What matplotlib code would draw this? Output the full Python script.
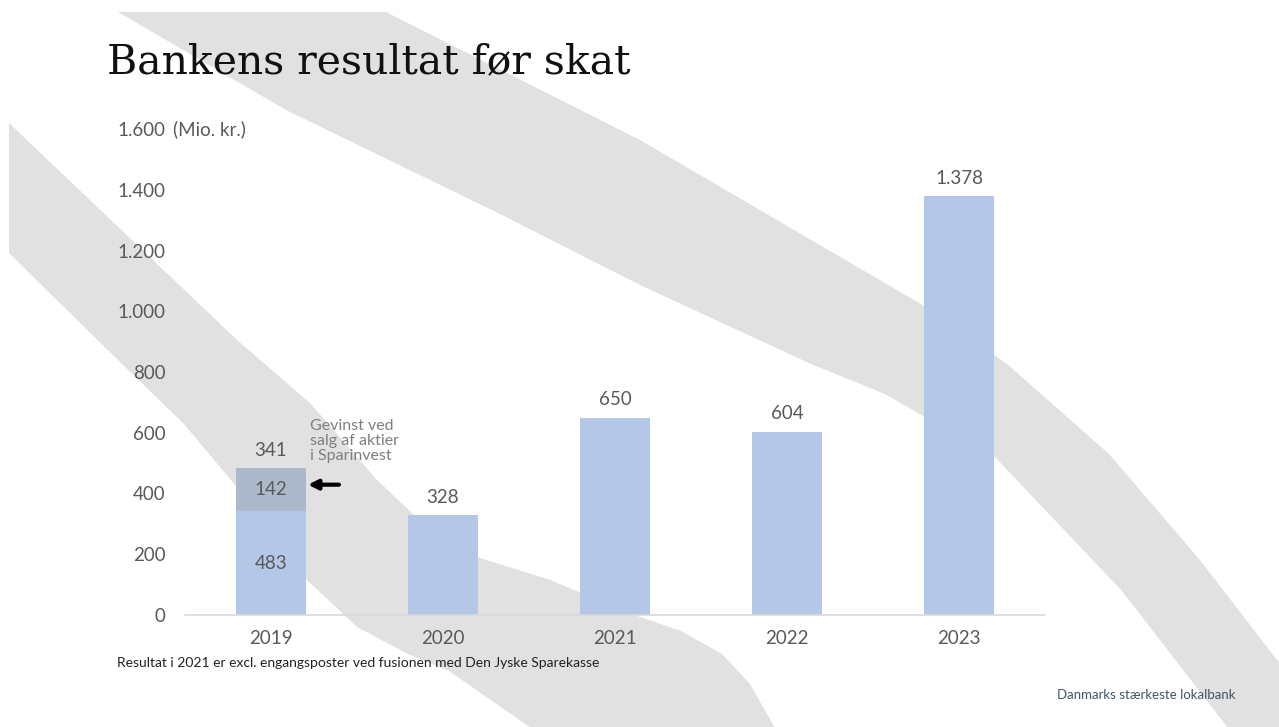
import matplotlib
matplotlib.use("Agg")
import matplotlib.pyplot as plt
from matplotlib.patches import Polygon

# data
years = ["2019", "2020", "2021", "2022", "2023"]
values = [341, 328, 650, 604, 1378]
labels = ["341", "328", "650", "604", "1.378"]
gain_2019 = 142
gain_label = "142"
base_label_2019 = "483"
yticks = [0, 200, 400, 600, 800, 1000, 1200, 1400, 1600]
ytick_labels = ["0", "200", "400", "600", "800", "1.000", "1.200", "1.400", "1.600"]

W, H = 1279, 727
bar_col = "#b4c7e7"
gain_col = "#adb9ca"
txt_col = "#595959"
band_col = "#e1e1e1"
sans = "Lato"
fs = 13.5

fig = plt.figure(figsize=(W / 100, H / 100), dpi=100)
fig.patch.set_facecolor("white")

# background axes in pixel units for the grey swooshes
bg = fig.add_axes([0, 0, 1, 1], zorder=-1)
bg.set_xlim(0, W)
bg.set_ylim(H, 0)
bg.axis("off")

upper_band = [(118, 12), (386, 12), (640, 140), (926, 307), (1007, 364), (1109, 454),
              (1200, 560), (1280, 664), (1280, 728), (1228, 728), (1122, 591), (995, 457),
              (885, 394), (811, 364), (640, 285), (498, 213), (286, 110)]
lower_band = [(9, 123), (237, 340), (310, 403), (377, 480), (430, 530), (477, 557),
              (550, 580), (640, 617), (681, 631), (722, 654), (750, 684), (775, 728),
              (531, 728), (449, 671), (408, 654), (357, 627), (307, 580), (245, 497),
              (184, 424), (122, 364), (9, 253)]
for band in (upper_band, lower_band):
    bg.add_patch(Polygon(band, closed=True, facecolor=band_col, edgecolor="none"))

ax = fig.add_axes([185 / W, 112 / H, 860 / W, 486 / H], zorder=1)
ax.set_facecolor("none")
x = list(range(len(years)))
ax.bar(x, values, width=0.41, color=bar_col, zorder=2)
ax.bar([0], [gain_2019], bottom=[values[0]], width=0.41, color=gain_col, zorder=2)

ax.set_xlim(-0.5, 4.5)
ax.set_ylim(0, 1600)
ax.set_yticks(yticks)
ax.set_yticklabels(ytick_labels)
ax.set_xticks(x)
ax.set_xticklabels(years)
ax.tick_params(axis="y", length=0, pad=14, labelsize=fs, labelcolor=txt_col)
ax.tick_params(axis="x", length=0, pad=11, labelsize=fs, labelcolor=txt_col)
for lab in ax.get_xticklabels() + ax.get_yticklabels():
    lab.set_family(sans)
for s in ["top", "right", "left"]:
    ax.spines[s].set_visible(False)
ax.spines["bottom"].set_color("#d9d9d9")
ax.spines["bottom"].set_linewidth(1.2)

# value labels
for i, (v, lab) in enumerate(zip(values, labels)):
    top = v + (gain_2019 if i == 0 else 0)
    ax.annotate(lab, (i, top), xytext=(0, 7), textcoords="offset points",
                ha="center", va="bottom", fontsize=fs, color=txt_col, family=sans)
ax.text(0, values[0] + gain_2019 / 2, gain_label, ha="center", va="center",
        fontsize=fs, color=txt_col, family=sans)
ax.text(0, values[0] / 2, base_label_2019, ha="center", va="center",
        fontsize=fs, color=txt_col, family=sans)

# annotation for 2019 gain
ay = values[0] + gain_2019 * 0.62
ax.annotate("", xy=(0.215, ay), xytext=(0.395, ay),
            arrowprops=dict(arrowstyle="-|>", lw=3, color="black", mutation_scale=14,
                            shrinkA=0, shrinkB=0))
ax.text(0.225, 645, "Gevinst ved\nsalg af aktier\ni Sparinvest", ha="left", va="top",
        fontsize=11.5, color="#7f7f7f", family=sans, linespacing=1.1)

ax.text(-12 / 860, 1.0, "(Mio. kr.)", transform=ax.transAxes, ha="left", va="center",
        fontsize=fs, color=txt_col, family=sans)

fig.text(107 / W, 1 - 62 / H, "Bankens resultat før skat", ha="left", va="center",
         fontsize=29.5, family="DejaVu Serif", color="#111111")
fig.text(117 / W, 1 - 663 / H, "Resultat i 2021 er excl. engangsposter ved fusionen med Den Jyske Sparekasse",
         ha="left", va="center", fontsize=10, family=sans, color="#222222")
fig.text(1057 / W, 1 - 695 / H, "Danmarks stærkeste lokalbank", ha="left", va="center",
         fontsize=9.5, family=sans, color="#44546a")

fig.savefig("out.png", dpi=100, facecolor="white")
